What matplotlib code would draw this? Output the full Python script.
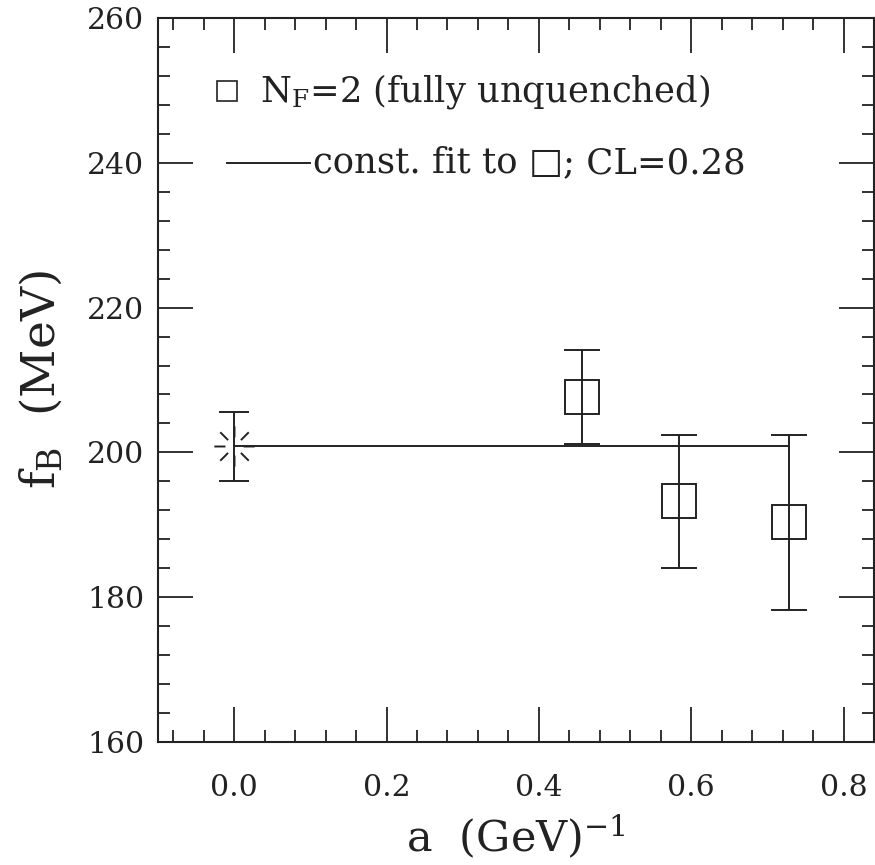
import matplotlib
matplotlib.use("Agg")
import matplotlib.pyplot as plt
from matplotlib.path import Path
from matplotlib.ticker import MultipleLocator
import numpy as np

# ---- data ----
x_extrap = [0.0]
y_extrap = [200.9]
yerr_extrap_lo = [4.9]
yerr_extrap_hi = [4.7]

x_nf2 = [0.457, 0.584, 0.728]
y_nf2 = [207.7, 193.3, 190.4]
yerr_nf2_lo = [6.5, 9.3, 12.2]
yerr_nf2_hi = [6.4, 9.1, 12.0]

fit_value = 200.9
fit_x = [0.0, 0.728]

xticks = [0.0, 0.2, 0.4, 0.6, 0.8]
yticks = [160, 180, 200, 220, 240, 260]

legend1 = r"N$_{\rm F}$=2 (fully unquenched)"
legend2_parts = ["const. fit to ", "\u25a1", "; CL=0.28"]

# ---- style ----
FONT = ["DejaVu Serif", "DejaVu Sans"]
plt.rcParams["font.family"] = FONT
plt.rcParams["mathtext.fontset"] = "dejavuserif"

INK = "#222222"
fig = plt.figure(figsize=(8.75, 8.65), dpi=100)
ax = fig.add_axes([158/875, 1 - 742/865, (874-158)/875, (742-18)/865])

lw = 1.4
# fit line
ax.plot(fit_x, [fit_value, fit_value], color=INK, lw=lw, zorder=2)

# burst marker (extrapolated point)
verts = []
codes = []
for ang in np.arange(0, 360, 45):
    a = np.deg2rad(ang)
    verts += [(0.45*np.cos(a), 0.45*np.sin(a)), (np.cos(a), np.sin(a))]
    codes += [Path.MOVETO, Path.LINETO]
burst = Path(verts, codes)

ax.errorbar(x_extrap, y_extrap, yerr=[yerr_extrap_lo, yerr_extrap_hi],
            fmt="none", ecolor=INK, elinewidth=lw, capsize=11, capthick=lw, zorder=3)
ax.plot(x_extrap, y_extrap, linestyle="none", marker=burst, markersize=29,
        markeredgecolor=INK, markerfacecolor="none", markeredgewidth=lw, zorder=3)

# N_F=2 points
ax.errorbar(x_nf2, y_nf2, yerr=[yerr_nf2_lo, yerr_nf2_hi],
            fmt="none", ecolor=INK, elinewidth=lw, capsize=13, capthick=lw, zorder=3)
ax.plot(x_nf2, y_nf2, linestyle="none", marker="s", markersize=25,
        markeredgecolor=INK, markerfacecolor="none", markeredgewidth=lw, zorder=4)

# legend (manual)
LFS = 25.5
ax.plot([0.0964], [0.899], transform=ax.transAxes, marker="s", markersize=14,
        markeredgecolor=INK, markerfacecolor="none", markeredgewidth=1.2, linestyle="none")
ax.text(0.1425, 0.899, legend1, transform=ax.transAxes, fontsize=LFS,
        va="center", ha="left", color=INK)
ax.plot([0.0964, 0.212], [0.80, 0.80], transform=ax.transAxes, color=INK, lw=lw)
t1 = ax.text(0.2165, 0.80, legend2_parts[0], transform=ax.transAxes, fontsize=LFS,
             va="center", ha="left", color=INK)
t2 = ax.annotate(legend2_parts[1], xy=(1.0, 0.5), xycoords=t1, fontsize=26,
                 va="center", ha="left", color=INK)
t3 = ax.annotate(legend2_parts[2], xy=(1.0, 0.5), xycoords=t2, fontsize=LFS,
                 va="center", ha="left", color=INK)

# axes
ax.set_xlim(-0.1, 0.84)
ax.set_ylim(160, 260)
ax.set_xticks(xticks)
ax.set_xticklabels([f"{t:.1f}" for t in xticks])
ax.set_yticks(yticks)
ax.set_yticklabels([str(t) for t in yticks])
ax.xaxis.set_minor_locator(MultipleLocator(0.04))
ax.yaxis.set_minor_locator(MultipleLocator(4))
ax.tick_params(which="both", direction="in", top=True, right=True,
               width=1.3, colors=INK, labelsize=21.5)
ax.tick_params(which="major", length=25)
ax.tick_params(which="minor", length=8.6)
ax.tick_params(axis="x", which="major", pad=23)
ax.tick_params(axis="y", which="major", pad=10)
for s in ax.spines.values():
    s.set_linewidth(1.5)
    s.set_color(INK)

ax.set_xlabel(r"a  (GeV)$^{-1}$", fontsize=31, labelpad=8, color=INK)
ax.set_ylabel(r"f$_{\rm B}$  (MeV)", fontsize=34, labelpad=16, color=INK)

fig.savefig("out.png", dpi=100)
